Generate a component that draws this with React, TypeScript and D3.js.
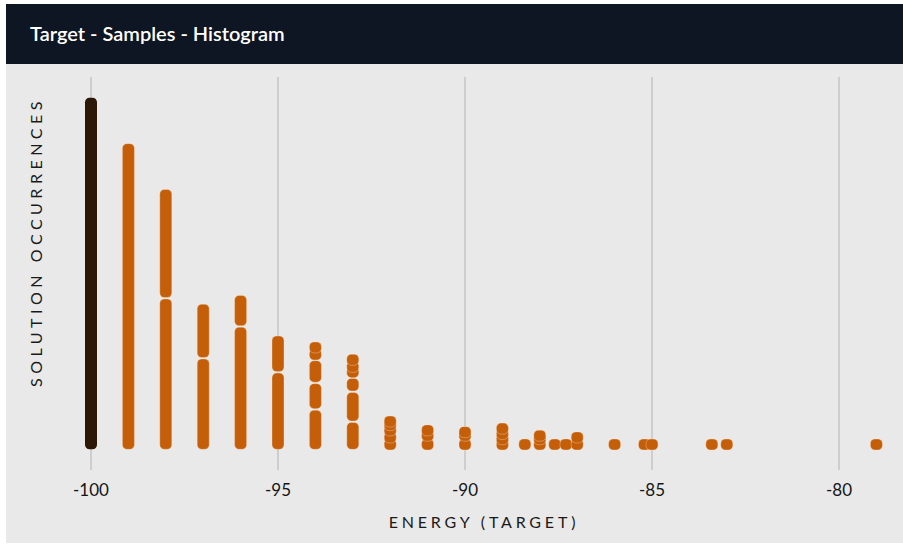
import React from "react";
import * as d3 from "d3";

const title = "Target - Samples - Histogram";
const xTitle = "ENERGY (TARGET)";
const yTitle = "SOLUTION OCCURRENCES";
const xTicks = [-100, -95, -90, -85, -80];
const energies = [-100, -99, -98, -97, -96, -95, -94, -93, -92, -91, -90, -89, -88.4, -88, -87.6, -87.3, -87, -86, -85.2, -85, -83.4, -83, -79];
const segmentCounts: number[][] = [
  [200], [174], [86, 62], [52, 31], [70, 18], [44, 21],
  [23, 15, 13, 4, 4], [16, 17, 8, 3, 4, 3], [4, 4, 3, 2, 2], [5, 3, 3], [5, 2, 2], [3, 3, 3, 2],
  [2], [3, 2, 2], [2], [1], [4, 2], [2], [1], [2], [2], [2], [1],
];

const W = 903;
const H = 547;
const FONT = "Lato, 'Open Sans', sans-serif";

export default function App() {
  const x = d3.scaleLinear().domain([-100, -80]).range([91, 839]);
  const y = d3.scaleLinear().domain([0, 200]).range([450, 97]);
  const barW = 12;
  const minH = 11;
  const bestEnergy = d3.min(energies) as number;

  const rects: React.ReactNode[] = [];
  energies.forEach((e, i) => {
    let cum = 0;
    segmentCounts[i].forEach((c, j) => {
      const y0 = y(cum);
      const y1 = y(cum + c);
      cum += c;
      let top = y1 + 0.75;
      let h = y0 - y1 - 1.5;
      if (y0 - y1 < minH) {
        top = y0 - minH;
        h = minH;
      }
      const isBest = e === bestEnergy;
      rects.push(
        <rect
          key={`${i}-${j}`}
          x={x(e) - barW / 2}
          y={top}
          width={barW}
          height={h}
          rx={Math.min(4.5, h / 2)}
          fill={isBest ? "#2d1808" : "#c45e08"}
          stroke={isBest ? "none" : "rgba(255,225,195,0.45)"}
          strokeWidth={0.8}
        />
      );
    });
  });

  return (
    <svg
      width={W}
      height={H}
      style={{ position: "absolute", left: 0, top: 0, background: "#ffffff" }}
    >
      <rect x={6} y={4} width={W - 6} height={539} fill="#e9e9e9" />
      <rect x={6} y={4} width={W - 6} height={60} fill="#0e1523" />
      <text x={30} y={41} fill="#ffffff" fontFamily={FONT} fontSize={20} fontWeight={600}>
        {title}
      </text>
      {xTicks.map((t) => (
        <g key={t}>
          <line x1={x(t)} x2={x(t)} y1={77} y2={470} stroke="#b3b3b3" strokeWidth={1} />
          <text
            x={x(t)}
            y={496}
            textAnchor="middle"
            fontFamily={FONT}
            fontSize={17}
            fill="#151515"
          >
            {t}
          </text>
        </g>
      ))}
      {rects}
      <text
        x={484}
        y={528}
        textAnchor="middle"
        fontFamily={FONT}
        fontSize={16}
        letterSpacing={3.8}
        fill="#1a1a1a"
      >
        {xTitle}
      </text>
      <text
        transform={`translate(42,242) rotate(-90)`}
        textAnchor="middle"
        fontFamily={FONT}
        fontSize={16}
        letterSpacing={4.5}
        fill="#1a1a1a"
      >
        {yTitle}
      </text>
    </svg>
  );
}
